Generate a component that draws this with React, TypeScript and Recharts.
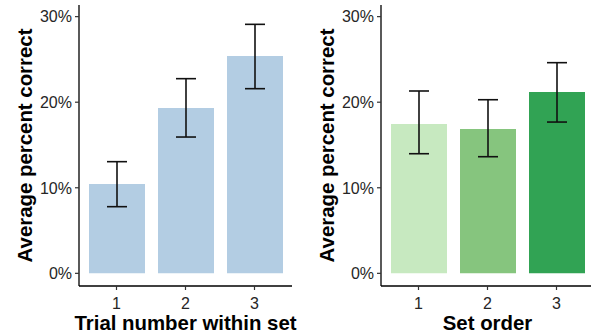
import React from 'react';
import { BarChart, Bar, XAxis, YAxis, ErrorBar, Cell } from 'recharts';

const categories = ['1', '2', '3'];

const trialMeans = [10.44, 19.32, 25.4];
const trialLow = [7.79, 15.93, 21.58];
const trialHigh = [13.05, 22.75, 29.1];

const setMeans = [17.45, 16.87, 21.19];
const setLow = [13.98, 13.63, 17.68];
const setHigh = [21.31, 20.29, 24.62];

const yTicks = [0, 10, 20, 30];

const trialColor = '#b3cde3';
const setColors = ['#c7e9c0', '#86c57e', '#31a354'];

const FONT = '"Liberation Sans", Arial, Helvetica, sans-serif';
const TICK_COLOR = '#262626';
const TICK_SIZE_FONT = 16;

const build = (means: number[], low: number[], high: number[]) =>
  categories.map((c, i) => ({
    cat: c,
    value: means[i],
    err: [means[i] - low[i], high[i] - means[i]],
  }));

const trialData = build(trialMeans, trialLow, trialHigh);
const setData = build(setMeans, setLow, setHigh);

const YTitle = (props: any) => {
  const vb = props.viewBox || { x: 0, y: 5, width: 79, height: 281 };
  const cx = vb.x + 32;
  const cy = vb.y + vb.height / 2;
  return (
    <text
      x={cx}
      y={cy}
      transform={`rotate(-90, ${cx}, ${cy})`}
      textAnchor="middle"
      fontFamily={FONT}
      fontWeight="bold"
      fontSize={20.4}
      fill="#000"
    >
      Average percent correct
    </text>
  );
};

const makeXTitle = (title: string) => (props: any) => {
  const vb = props.viewBox || { x: 79, y: 286, width: 213, height: 49 };
  return (
    <text
      x={vb.x + vb.width / 2}
      y={vb.y + 44}
      textAnchor="middle"
      fontFamily={FONT}
      fontWeight="bold"
      fontSize={20.4}
      fill="#000"
    >
      {title}
    </text>
  );
};

const YTick = (props: any) => {
  const { x, y, payload } = props;
  return (
    <text
      x={x}
      y={y}
      dy="0.36em"
      textAnchor="end"
      fontFamily={FONT}
      fontSize={TICK_SIZE_FONT}
      fill={TICK_COLOR}
    >
      {`${payload.value}%`}
    </text>
  );
};

const XTick = (props: any) => {
  const { x, y, payload } = props;
  return (
    <text
      x={x}
      y={y}
      dy="0.72em"
      textAnchor="middle"
      fontFamily={FONT}
      fontSize={TICK_SIZE_FONT}
      fill={TICK_COLOR}
    >
      {payload.value}
    </text>
  );
};

const Panel = ({ data, title, colors }: { data: any[]; title: string; colors: string[] }) => (
  <BarChart
    width={300}
    height={335}
    data={data}
    margin={{ top: 5, right: 8, bottom: 0, left: 0 }}
  >
    <XAxis
      dataKey="cat"
      height={49}
      padding={{ left: 3, right: 3 }}
      axisLine={{ stroke: '#000', strokeWidth: 1.3 }}
      tickLine={{ stroke: '#333', strokeWidth: 1.2 }}
      tickSize={4}
      tickMargin={7}
      tick={<XTick />}
      label={{ content: makeXTitle(title) } as any}
    />
    <YAxis
      type="number"
      width={79}
      domain={[-1.48, 31.36]}
      ticks={yTicks}
      axisLine={{ stroke: '#000', strokeWidth: 1.3 }}
      tickLine={{ stroke: '#333', strokeWidth: 1.2 }}
      tickSize={4}
      tickMargin={3}
      tick={<YTick />}
      label={{ content: YTitle } as any}
    />
    <Bar dataKey="value" barSize={56} isAnimationActive={false}>
      {data.map((d, i) => (
        <Cell key={d.cat} fill={colors[i % colors.length]} />
      ))}
      <ErrorBar dataKey="err" width={10} stroke="#111" strokeWidth={1.6} isAnimationActive={false} />
    </Bar>
  </BarChart>
);

export default function App() {
  return (
    <div
      style={{
        position: 'absolute',
        top: 0,
        left: 0,
        width: 591,
        height: 335,
        overflow: 'hidden',
        background: '#fff',
      }}
    >
      <div style={{ position: 'absolute', left: 0, top: 0 }}>
        <Panel data={trialData} title="Trial number within set" colors={[trialColor]} />
      </div>
      <div style={{ position: 'absolute', left: 301.7, top: 0 }}>
        <Panel data={setData} title="Set order" colors={setColors} />
      </div>
    </div>
  );
}
